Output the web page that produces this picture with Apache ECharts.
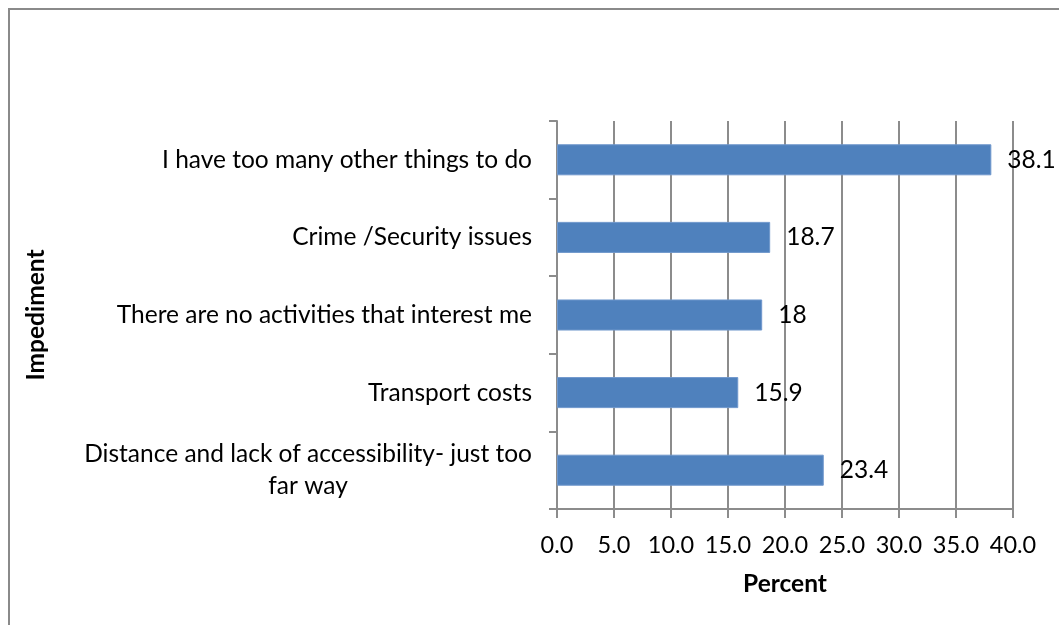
<!DOCTYPE html>
<html>
<head>
<meta charset="utf-8">
<script src="https://cdn.jsdelivr.net/npm/echarts@6/dist/echarts.min.js"></script>
<style>
  html, body { margin: 0; padding: 0; background: #fff; }
  #chart { width: 1059px; height: 625px; }
</style>
</head>
<body>
<div id="chart"></div>
<script>
// Impediments, top to bottom
const categories = [
  'I have too many other things to do',
  'Crime /Security issues',
  'There are no activities that interest me',
  'Transport costs',
  'Distance and lack of accessibility- just too\nfar way'
];
const percentValues = [38.1, 18.7, 18, 15.9, 23.4];
const xTicks = ['0.0', '5.0', '10.0', '15.0', '20.0', '25.0', '30.0', '35.0', '40.0'];

const FONT = 'Lato';
const FS = 24.5;
const GRID = '#8c8c8c';

const chart = echarts.init(document.getElementById('chart'), null, { renderer: 'canvas' });

chart.setOption({
  animation: false,
  backgroundColor: '#ffffff',
  textStyle: { fontFamily: FONT },
  graphic: [{
    type: 'rect',
    shape: { x: 9, y: 9, width: 1200, height: 800 },
    style: { fill: 'none', stroke: '#8a8a8a', lineWidth: 2 },
    silent: true
  }],
  grid: { left: 557, right: 46, top: 121, bottom: 116, containLabel: false },
  xAxis: {
    type: 'value',
    min: 0,
    max: 40,
    interval: 5,
    name: 'Percent',
    nameLocation: 'middle',
    nameGap: 63,
    nameTextStyle: { fontFamily: FONT, fontSize: FS, fontWeight: 'bold', color: '#000' },
    axisLine: { show: true, lineStyle: { color: GRID, width: 2 } },
    axisTick: { show: true, inside: false, length: 9, lineStyle: { color: GRID, width: 2 } },
    axisLabel: {
      margin: 24,
      fontFamily: FONT, fontSize: 23.5, color: '#000',
      formatter: function (v) { return xTicks[Math.round(v / 5)]; }
    },
    splitLine: { show: true, lineStyle: { color: GRID, width: 2 } }
  },
  yAxis: {
    type: 'category',
    data: categories,
    inverse: true,
    name: 'Impediment',
    nameLocation: 'middle',
    nameGap: 508,
    nameRotate: 90,
    nameTextStyle: { fontFamily: FONT, fontSize: FS, fontWeight: 'bold', color: '#000' },
    axisLine: { show: true, lineStyle: { color: GRID, width: 2 } },
    axisTick: { show: true, inside: false, length: 8, alignWithLabel: false, lineStyle: { color: GRID, width: 2 } },
    axisLabel: {
      margin: 25,
      fontFamily: FONT, fontSize: FS, color: '#000',
      lineHeight: 32,
      formatter: function (v) {
        return v.split('\n').map(function (s) { return '{c|' + s + '}'; }).join('\n');
      },
      rich: { c: { align: 'center', fontFamily: FONT, fontSize: FS, color: '#000', lineHeight: 32 } }
    },
    splitLine: { show: false }
  },
  series: [{
    type: 'bar',
    data: percentValues,
    barCategoryGap: '60%',
    itemStyle: { color: '#4F81BD', borderColor: '#6f97cc', borderWidth: 1 },
    label: {
      show: true,
      position: 'right',
      distance: 16,
      fontFamily: FONT, fontSize: FS, color: '#000',
      formatter: function (p) { return String(p.value); }
    }
  }]
});
</script>
</body>
</html>
